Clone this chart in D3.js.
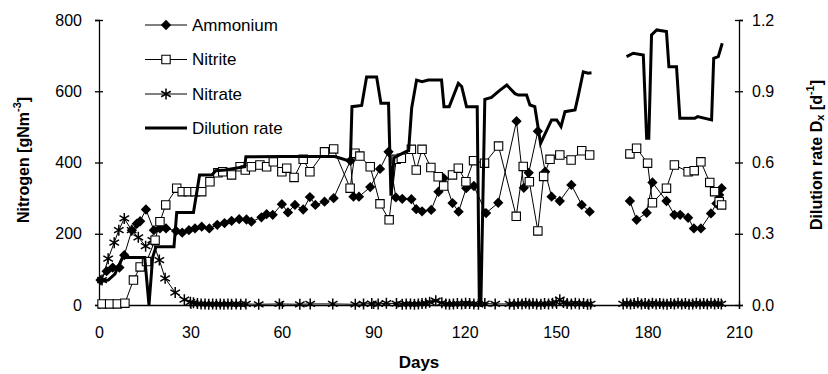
<!DOCTYPE html>
<html>
<head>
<meta charset="utf-8">
<script src="https://cdn.jsdelivr.net/npm/d3@7"></script>
<style>
  body { margin: 0; background: #fff; }
  text { font-family: "Liberation Sans", Arial, sans-serif; fill: #000; }
</style>
</head>
<body>
<div id="chart"></div>
<script>
// [day, value]; null marks the gap in sampling
const ammonium = [[0.5,70],[2.5,95],[4.5,105],[6.7,105],[8.3,140],[10.8,210],[12.4,228],[13.5,235],[15.4,268],[18,210],[20,215],[22,215],[25.3,208],[27.3,203],[29.5,210],[31.5,215],[33.7,220],[36.2,215],[38.8,225],[41.2,230],[43.5,236],[46,241],[48.4,240],[50,234],[53.3,246],[55,255],[57,253],[60,283],[62,260],[64.3,281],[67,268],[69.2,303],[71,281],[74,290],[77,300],[82.5,405],[83.5,304],[85.3,304],[89,331],[92.2,382],[95,430],[97.4,302],[99.5,298],[102.5,297],[104.1,269],[106,263],[109,267],[111.4,318],[113.1,356],[116,286],[118,262],[120.5,328],[123,334],[127,258],[131,287],[137,516],[139.4,329],[141,371],[144,488],[146.4,374],[148.5,304],[151.2,292],[155,337],[158.4,281],[161,262],[166,null],[174.2,292],[176.4,239],[179.7,259],[181.6,344],[186.2,292],[188.8,253],[190.7,253],[193.3,245],[195.2,215],[197.5,215],[200.8,257],[202.6,285],[203.5,309],[204.3,328]];

const nitrite = [[1,3],[3.5,3],[6,3],[8.5,5],[11.3,70],[13.5,107],[15.6,122],[18.4,182],[20,234],[21.9,281],[25.5,328],[27.3,318],[29.3,318],[31.5,318],[33.7,318],[36.4,346],[39,371],[40.6,374],[43.5,365],[46.3,388],[48,379],[50,388],[52.8,393],[55,388],[57.2,402],[60,374],[61.6,384],[64,358],[67,409],[69.2,374],[74,430],[77,438],[82.4,328],[84,426],[85.6,418],[89,388],[92.2,284],[95.2,239],[97.5,409],[99.2,412],[102.5,437],[104.1,379],[106,437],[108.9,386],[111.3,360],[113.1,334],[116,365],[117.9,384],[120.4,346],[122.9,405],[126.5,398],[131.1,446],[136.9,249],[139.2,389],[141.2,346],[144,208],[145.9,361],[148,409],[151.2,421],[154.9,407],[158.4,433],[161,421],[166,null],[174.2,424],[176.4,440],[180,398],[181.6,287],[186.2,328],[188.8,393],[193.3,374],[195.3,377],[197.5,402],[200.4,344],[202,318],[203.5,290],[204.3,281]];

const nitrate = [[1,70],[3,130],[5,175],[6.5,210],[8.3,243],[10.7,210],[12.9,190],[15.3,165],[17.5,182],[19.8,126],[21.7,75],[25,35],[28,15],[30,8],[31,6],[32.3,4],[33.5,3],[34.8,3],[36,2],[37.3,3],[38.5,2],[39.8,3],[41,2],[42.3,3],[43.5,2],[45,3],[46.5,2],[48.2,3],[52.4,2],[59.2,3],[65.9,2],[69.3,3],[76.7,3],[84.1,2],[86.8,3],[89.5,4],[91.6,3],[94.3,5],[97.6,4],[99.5,2],[100.8,3],[102.2,3],[103.5,2],[104.8,3],[106,4],[107.2,5],[108.5,8],[110.5,12],[112.5,6],[113.8,3],[115,2],[116.3,3],[117.6,4],[119,3],[120.3,5],[121.6,4],[123,3],[124.5,2],[126.6,4],[130,3],[134.7,3],[136.2,2],[137.5,4],[138.8,3],[140,5],[141.2,3],[142.4,4],[143.6,3],[145,2],[146.2,4],[147.5,3],[148.8,5],[150,8],[151.2,15],[152.4,7],[153.6,4],[155,3],[156.3,5],[157.6,3],[159,4],[160.3,2],[161.3,3],[166,null],[172,3],[173.2,5],[174.4,3],[175.6,4],[176.8,6],[178,3],[179.2,4],[180.4,2],[181.6,5],[182.8,3],[184,4],[185.2,3],[186.4,2],[187.6,4],[188.8,3],[190,5],[191.2,3],[192.4,4],[193.6,2],[194.8,3],[196,5],[197.2,3],[198.4,4],[199.6,3],[200.8,5],[202,3],[203.2,4],[204.2,3]];

const dilution = [[0.5,0.10],[3,0.105],[5.2,0.13],[7.7,0.20],[15,0.20],[16.4,0.0],[17.6,0.20],[18.7,0.245],[24.6,0.245],[25.5,0.39],[31,0.39],[33,0.547],[37,0.547],[38.3,0.565],[41.3,0.568],[47.8,0.582],[48.2,0.624],[60,0.625],[77.4,0.625],[81.3,0.61],[82.5,0.61],[83,0.835],[86.2,0.84],[87.8,0.96],[91.1,0.96],[92.5,0.85],[95,0.85],[95.8,0.46],[96.8,0.62],[100.5,0.645],[101.6,0.65],[102.6,0.83],[104.2,0.947],[106,0.94],[108,0.947],[112.4,0.947],[113.2,0.835],[114.9,0.835],[117.9,0.933],[119,0.92],[120.6,0.835],[124.1,0.835],[124.8,0.0],[125.3,0.0],[126.6,0.866],[128.8,0.874],[130.7,0.895],[131.6,0.905],[133.8,0.926],[136.5,0.89],[137.6,0.884],[140.3,0.884],[141.4,0.842],[143,0.835],[144.9,0.68],[148.5,0.779],[150.2,0.779],[151.6,0.751],[152.9,0.814],[156.2,0.821],[157.3,0.884],[158.9,0.982],[160.5,0.976],[161.6,0.978],[166,null],[173.1,1.046],[175.3,1.06],[178.6,1.053],[179.7,0.702],[180.4,0.702],[181.3,1.137],[183,1.158],[186.2,1.151],[187,1.003],[189.5,1.003],[190.6,0.786],[195.5,0.786],[196.4,0.793],[201,0.779],[201.7,1.039],[203.2,1.046],[204.5,1.102]];

const dayTicks = [0, 30, 60, 90, 120, 150, 180, 210];
const nitrogenTicks = [0, 200, 400, 600, 800];
const dilutionTicks = [0, 0.3, 0.6, 0.9, 1.2];
const legendLabels = ["Ammonium", "Nitrite", "Nitrate", "Dilution rate"];

const W = 828, H = 374;
const plot = {left: 99, right: 739, top: 20, bottom: 305};

const svg = d3.select("#chart").append("svg")
    .attr("width", W).attr("height", H);

const x = d3.scaleLinear().domain([0, 210]).range([plot.left, plot.right]);
const yN = d3.scaleLinear().domain([0, 800]).range([plot.bottom, plot.top]);
const yD = d3.scaleLinear().domain([0, 1.2]).range([plot.bottom, plot.top]);

// axes
function styleAxis(g, horiz) {
    g.select(".domain").attr("stroke", "#000").attr("stroke-width", 1.3);
    g.selectAll(".tick line").attr("stroke", "#000").attr("stroke-width", 1.3);
    if (horiz) g.selectAll(".tick line").attr("y1", -4).attr("y2", 4);
    else g.selectAll(".tick line").attr("x1", -4).attr("x2", 4);
    g.selectAll(".tick text").style("font-size", "16px").attr("fill", "#000");
}

svg.append("g")
    .attr("transform", `translate(0,${plot.bottom})`)
    .call(d3.axisBottom(x).tickValues(dayTicks).tickSizeOuter(0).tickSize(4).tickPadding(18))
    .call(g => styleAxis(g, true));

svg.append("g")
    .attr("transform", `translate(${plot.left},0)`)
    .call(d3.axisLeft(yN).tickValues(nitrogenTicks).tickSizeOuter(0).tickSize(4).tickPadding(13))
    .call(g => styleAxis(g, false));

svg.append("g")
    .attr("transform", `translate(${plot.right},0)`)
    .call(d3.axisRight(yD).tickValues(dilutionTicks).tickFormat(d3.format(".1f")).tickSizeOuter(0).tickSize(4).tickPadding(9))
    .call(g => styleAxis(g, false));

// axis titles
svg.append("text")
    .attr("transform", `translate(23,160) rotate(-90)`)
    .attr("text-anchor", "middle").attr("dominant-baseline", "central")
    .style("font-size", "16px").style("font-weight", "bold")
    .html('Nitrogen [gNm<tspan dy="-6" font-size="11">-3</tspan><tspan dy="6">]</tspan>');

svg.append("text")
    .attr("transform", `translate(816,155) rotate(-90)`)
    .attr("text-anchor", "middle").attr("dominant-baseline", "central")
    .style("font-size", "16px").style("font-weight", "bold")
    .html('Dilution rate D<tspan dy="4" font-size="11">x</tspan><tspan dy="-4"> [d</tspan><tspan dy="-6" font-size="11">-1</tspan><tspan dy="6">]</tspan>');

svg.append("text")
    .attr("x", (plot.left + plot.right) / 2).attr("y", 362)
    .attr("text-anchor", "middle").attr("dominant-baseline", "central")
    .style("font-size", "17px").style("font-weight", "bold")
    .text("Days");

// markers
const diamond = d3.symbol().type(d3.symbolDiamond2).size(68)();
const square = d3.symbol().type(d3.symbolSquare2).size(90)();
function drawStar(g, cx, cy) {
    const r = 5.5, a = r * 0.87, b = r * 0.5;
    g.append("path")
        .attr("d", `M${cx},${cy - r}L${cx},${cy + r}M${cx - a},${cy - b}L${cx + a},${cy + b}M${cx - a},${cy + b}L${cx + a},${cy - b}`)
        .attr("stroke", "#000").attr("stroke-width", 1.5).attr("fill", "none");
}

const lineN = d3.line().defined(d => d[1] != null).x(d => x(d[0])).y(d => yN(d[1]));
const lineD = d3.line().defined(d => d[1] != null).x(d => x(d[0])).y(d => yD(d[1]));

// nitrate
svg.append("path").datum(nitrate).attr("d", lineN)
    .attr("fill", "none").attr("stroke", "#000").attr("stroke-width", 1);
const gNo3 = svg.append("g");
nitrate.filter(d => d[1] != null).forEach(d => drawStar(gNo3, x(d[0]), yN(d[1])));

// ammonium
svg.append("path").datum(ammonium).attr("d", lineN)
    .attr("fill", "none").attr("stroke", "#000").attr("stroke-width", 1);
svg.append("g").selectAll("path").data(ammonium.filter(d => d[1] != null)).join("path")
    .attr("d", diamond)
    .attr("transform", d => `translate(${x(d[0])},${yN(d[1])})`)
    .attr("fill", "#000");

// nitrite
svg.append("path").datum(nitrite).attr("d", lineN)
    .attr("fill", "none").attr("stroke", "#000").attr("stroke-width", 1);
svg.append("g").selectAll("path").data(nitrite.filter(d => d[1] != null)).join("path")
    .attr("d", square)
    .attr("transform", d => `translate(${x(d[0])},${yN(d[1])})`)
    .attr("fill", "#fff").attr("stroke", "#000").attr("stroke-width", 1.1);

// dilution rate (secondary axis)
svg.append("path").datum(dilution).attr("d", lineD)
    .attr("fill", "none").attr("stroke", "#000").attr("stroke-width", 3)
    .attr("stroke-linejoin", "miter");

// legend
const legend = svg.append("g");
const rowY = [25, 59.5, 94, 128];
legendLabels.forEach((lab, i) => {
    const y0 = rowY[i];
    legend.append("line").attr("x1", 145).attr("x2", 187).attr("y1", y0).attr("y2", y0)
        .attr("stroke", "#000").attr("stroke-width", i === 3 ? 3 : 1);
    if (i === 0) legend.append("path").attr("d", diamond).attr("transform", `translate(166,${y0})`).attr("fill", "#000");
    if (i === 1) legend.append("path").attr("d", square).attr("transform", `translate(166,${y0})`).attr("fill", "#fff").attr("stroke", "#000").attr("stroke-width", 1.1);
    if (i === 2) drawStar(legend, 166, y0);
    legend.append("text").attr("x", 192).attr("y", y0)
        .attr("dominant-baseline", "central").style("font-size", "17px")
        .text(lab);
});
</script>
</body>
</html>
